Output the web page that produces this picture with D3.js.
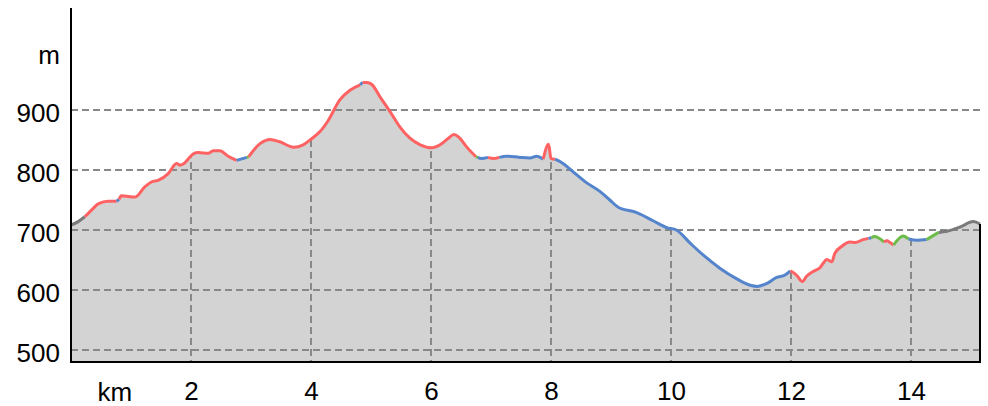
<!DOCTYPE html>
<html>
<head>
<meta charset="utf-8">
<script src="https://cdn.jsdelivr.net/npm/d3@7"></script>
<style>
  body { margin: 0; background: #fff; }
  text { font-family: "Liberation Sans", Arial, sans-serif; }
</style>
</head>
<body>
<div id="chart"></div>
<script>
// ----- ----- ----- ----- ----- ----- ----- ----- -----
// DATA
// distance along the track (km)
var dist = [
    0.00, 0.12, 0.23, 0.35, 0.46, 0.62, 0.76, 0.80, 0.84, 1.07,
    1.23, 1.34, 1.46, 1.62, 1.76, 1.82, 1.87, 2.04, 2.12, 2.29,
    2.37, 2.48, 2.62, 2.76, 2.93, 2.96, 3.15, 3.32, 3.48, 3.71,
    3.87, 4.01, 4.15, 4.29, 4.48, 4.65, 4.82, 4.86, 4.93, 5.01,
    5.15, 5.32, 5.48, 5.65, 5.82, 6.01, 6.15, 6.29, 6.38, 6.48,
    6.59, 6.75, 6.78, 6.84, 6.95, 7.04, 7.14, 7.26, 7.48, 7.65,
    7.76, 7.87, 7.96, 8.00, 8.07, 8.20, 8.37, 8.59, 8.82, 8.98,
    9.12, 9.43, 9.71, 9.93, 10.09, 10.32, 10.54, 10.82, 11.09, 11.32,
    11.44, 11.60, 11.76, 11.90, 11.99, 12.09, 12.19, 12.26, 12.37, 12.48,
    12.60, 12.68, 12.73, 12.85, 12.98, 13.07, 13.20, 13.29, 13.34, 13.39,
    13.55, 13.60, 13.65, 13.71, 13.87, 13.96, 14.10, 14.26, 14.46, 14.60,
    14.82, 15.04, 15.15
];

// elevation (m)
var elev = [
    708, 714, 722, 734, 744, 748, 748, 751, 757, 755,
    772, 780, 783, 794, 811, 808, 810, 827, 829, 828,
    832, 832, 823, 816, 821, 822, 844, 851, 847, 838,
    842, 852, 864, 883, 917, 933, 942, 946, 946, 943,
    922, 897, 872, 853, 842, 837, 842, 853, 859, 853,
    839, 822, 821, 819, 821, 819, 821, 823, 821, 820,
    823, 818, 843, 819, 818, 811, 797, 779, 764, 750,
    738, 729, 715, 704, 700, 678, 658, 636, 619, 608,
    606, 611, 621, 625, 632, 625, 614, 623, 631, 637,
    651, 647, 661, 673, 680, 679, 684, 686, 687, 689,
    680, 682, 679, 675, 690, 685, 683, 684, 696, 698,
    705, 714, 710
];

// surface class of the stretch starting at each point
// g = gray, r = red, b = blue, l = green
var surface = [
    "g", "g", "r", "r", "r", "r", "b", "r", "r", "r",
    "r", "r", "r", "r", "r", "r", "r", "r", "r", "r",
    "r", "r", "r", "b", "l", "r", "r", "r", "r", "r",
    "r", "r", "r", "r", "r", "r", "b", "r", "r", "r",
    "r", "r", "r", "r", "r", "r", "r", "r", "r", "r",
    "r", "l", "b", "b", "r", "r", "b", "b", "b", "b",
    "b", "r", "r", "r", "b", "b", "b", "b", "b", "b",
    "b", "b", "b", "b", "b", "b", "b", "b", "b", "b",
    "b", "b", "b", "b", "r", "r", "r", "r", "r", "r",
    "r", "r", "r", "r", "r", "r", "r", "b", "l", "l",
    "r", "r", "r", "l", "l", "b", "b", "l", "g", "g",
    "g", "g", "g"
];

var surfaceColors = { g: "#7a7a7a", r: "#ff6262", b: "#5484cc", l: "#6cbd48" };

var elevTicks = [500, 600, 700, 800, 900, 1000];
var distTicks = [2, 4, 6, 8, 10, 12, 14];

// ----- ----- ----- ----- ----- ----- ----- ----- -----
// FIGURE
const size = { width: 988, height: 406 };
const plot = { left: 71, right: 983, top: 8, bottom: 362 };
const fontSize = 26;

var svg = d3.select("#chart")
    .append("svg")
    .attr("width", size.width)
    .attr("height", size.height);

var x_scale = d3.scaleLinear()
    .domain([0, 15.2])
    .range([plot.left, plot.right]);

var y_scale = d3.scaleLinear()
    .domain([480, 1070])
    .range([plot.bottom, plot.top]);

var points = dist.map(function (d, i) { return { x: d, y: elev[i], s: surface[i] }; });
var lastX = x_scale(dist[dist.length - 1]);

var curve = d3.curveMonotoneX;

var area = d3.area()
    .x(function (d) { return x_scale(d.x) })
    .y0(plot.bottom)
    .y1(function (d) { return y_scale(d.y) })
    .curve(curve);

// clip for the vertical grid (only under the profile)
svg.append("clipPath")
    .attr("id", "profile-clip")
    .append("path")
    .datum(points)
    .attr("d", area);

// profile fill
svg.append("path")
    .datum(points)
    .attr("fill", "#d3d3d3")
    .attr("d", area);

// vertical grid
svg.append("g")
    .attr("clip-path", "url(#profile-clip)")
    .selectAll("line")
    .data(distTicks)
    .join("line")
    .attr("x1", function (d) { return x_scale(d) })
    .attr("x2", function (d) { return x_scale(d) })
    .attr("y1", plot.top)
    .attr("y2", plot.bottom)
    .attr("stroke", "#888")
    .attr("stroke-width", 2)
    .attr("stroke-dasharray", "7,4");

// horizontal grid
svg.append("g")
    .selectAll("line")
    .data(elevTicks.filter(function (d) { return d < 1000 }))
    .join("line")
    .attr("x1", plot.left)
    .attr("x2", lastX)
    .attr("y1", function (d) { return y_scale(d) })
    .attr("y2", function (d) { return y_scale(d) })
    .attr("stroke", "#888")
    .attr("stroke-width", 2)
    .attr("stroke-dasharray", "7,4");

// coloured profile line, split by surface class
var runs = [];
points.forEach(function (p, i) {
    if (i === points.length - 1) return;
    var last = runs[runs.length - 1];
    if (!last || last.s !== p.s) {
        runs.push({ s: p.s, pts: [p, points[i + 1]] });
    } else {
        last.pts.push(points[i + 1]);
    }
});

var line = d3.line()
    .x(function (d) { return x_scale(d.x) })
    .y(function (d) { return y_scale(d.y) })
    .curve(curve);

svg.append("g")
    .selectAll("path")
    .data(runs)
    .join("path")
    .attr("fill", "none")
    .attr("stroke", function (d) { return surfaceColors[d.s] })
    .attr("stroke-width", 3)
    .attr("stroke-linejoin", "round")
    .attr("d", function (d) { return line(d.pts) });

// frame: left axis, bottom, right edge of profile
svg.append("line")
    .attr("x1", plot.left).attr("x2", plot.left)
    .attr("y1", plot.top).attr("y2", plot.bottom + 1)
    .attr("stroke", "#000").attr("stroke-width", 2);
svg.append("line")
    .attr("x1", plot.left).attr("x2", lastX + 1)
    .attr("y1", plot.bottom).attr("y2", plot.bottom)
    .attr("stroke", "#000").attr("stroke-width", 2);
svg.append("line")
    .attr("x1", lastX).attr("x2", lastX)
    .attr("y1", y_scale(elev[elev.length - 1])).attr("y2", plot.bottom)
    .attr("stroke", "#000").attr("stroke-width", 2);

// Y axis labels
var y_axis = d3.axisLeft(y_scale)
    .tickValues(elevTicks)
    .tickSize(0)
    .tickPadding(11)
    .tickFormat(function (d) { return d === 1000 ? "m" : d });

var yg = svg.append("g")
    .attr("transform", "translate(" + plot.left + ",0)")
    .call(y_axis);
yg.select(".domain").remove();
yg.selectAll("text")
    .attr("font-family", "Liberation Sans, Arial, sans-serif")
    .attr("font-size", fontSize)
    .attr("fill", "#000")
    .attr("dy", "0.38em")
    .attr("y", function (d) { return d === 1000 ? 4 : 1.5 });

// X axis labels
var x_axis = d3.axisBottom(x_scale)
    .tickValues(distTicks)
    .tickSize(0)
    .tickPadding(20);

var xg = svg.append("g")
    .attr("transform", "translate(0," + plot.bottom + ")")
    .call(x_axis);
xg.select(".domain").remove();
xg.selectAll("text")
    .attr("font-family", "Liberation Sans, Arial, sans-serif")
    .attr("font-size", fontSize)
    .attr("fill", "#000");

svg.append("text")
    .attr("x", x_scale(0.73))
    .attr("y", 401)
    .attr("text-anchor", "middle")
    .attr("font-size", fontSize)
    .attr("fill", "#000")
    .text("km");
</script>
</body>
</html>
